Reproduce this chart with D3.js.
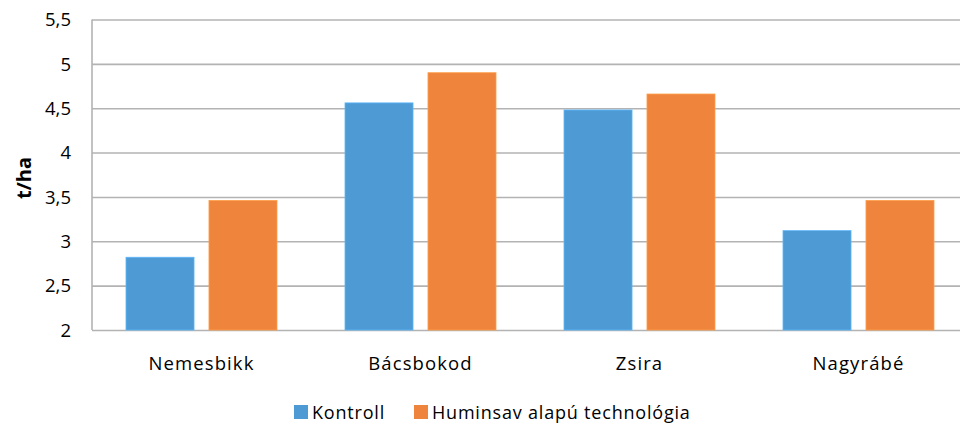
<!DOCTYPE html>
<html>
<head>
<meta charset="utf-8">
<script src="https://cdn.jsdelivr.net/npm/d3@7"></script>
<style>
  body { margin: 0; background: #fff; }
  text { font-family: 'Open Sans', 'DejaVu Sans', sans-serif; fill: #000; }
</style>
</head>
<body>
<svg id="chart" width="960" height="425"></svg>
<script>
const sites = ['Nemesbikk', 'Bácsbokod', 'Zsira', 'Nagyrábé'];
const seriesNames = ['Kontroll', 'Huminsav alapú technológia'];
const kontroll = [2.82, 4.56, 4.48, 3.12];
const huminsav = [3.46, 4.90, 4.66, 3.46];
const yTicks = [2, 2.5, 3, 3.5, 4, 4.5, 5, 5.5];

const colors = ['#4e9ad4', '#ef843c'];
const series = [kontroll, huminsav];

const svg = d3.select('#chart');
const margin = { top: 19.5, left: 92, bottom: 95 };
// plot area runs past the right edge of the picture
const plotRight = 968;
const height = 425 - margin.top - margin.bottom;

const x = d3.scaleBand()
  .domain(sites)
  .range([margin.left, plotRight]);

const xInner = d3.scaleBand()
  .domain(seriesNames)
  .range([34, x.bandwidth() - 34])
  .paddingInner(0.18);

const y = d3.scaleLinear()
  .domain([2, 5.5])
  .range([margin.top + height, margin.top]);

const fmt = d => d3.format('.1~f')(d).replace('.', ',');

// gridlines
svg.append('g')
  .attr('class', 'grid')
  .call(d3.axisLeft(y).tickValues(yTicks).tickSize(-(plotRight - margin.left)).tickFormat(''))
  .attr('transform', `translate(${margin.left},0)`)
  .call(g => g.select('.domain').remove())
  .selectAll('line')
    .attr('stroke', '#b3b3b3')
    .attr('stroke-width', 1.6);

// left axis line
svg.append('line')
  .attr('x1', margin.left).attr('x2', margin.left)
  .attr('y1', y(5.5)).attr('y2', y(2))
  .attr('stroke', '#b3b3b3')
  .attr('stroke-width', 1.6);

// tick labels
svg.append('g')
  .selectAll('text')
  .data(yTicks)
  .enter().append('text')
    .attr('x', 71)
    .attr('y', d => y(d))
    .attr('dy', '0.36em')
    .attr('text-anchor', 'end')
    .attr('font-size', 18.5)
    .text(fmt);

svg.append('text')
  .attr('transform', `translate(31,178) rotate(-90)`)
  .attr('text-anchor', 'middle')
  .attr('font-size', 20)
  .attr('font-weight', 'bold')
  .text('t/ha');

// bars
const groups = svg.append('g')
  .selectAll('g')
  .data(sites)
  .enter().append('g')
    .attr('transform', d => `translate(${x(d)},0)`);

groups.selectAll('rect')
  .data((d, i) => seriesNames.map((s, j) => ({ key: s, value: series[j][i], j })))
  .enter().append('rect')
    .attr('x', d => xInner(d.key))
    .attr('width', xInner.bandwidth())
    .attr('y', d => y(d.value))
    .attr('height', d => y(2) - y(d.value))
    .attr('fill', d => colors[d.j])
    .attr('stroke', d => d3.color(colors[d.j]).brighter(0.5))
    .attr('stroke-width', 0.8);

// category labels
svg.append('g')
  .selectAll('text')
  .data(sites)
  .enter().append('text')
    .attr('x', d => x(d) + x.bandwidth() / 2)
    .attr('y', 370)
    .attr('text-anchor', 'middle')
    .attr('font-size', 18.5)
    .attr('letter-spacing', 1.1)
    .text(d => d);

// legend
const legendX = [294, 414];
const legend = svg.append('g')
  .selectAll('g')
  .data(seriesNames)
  .enter().append('g')
    .attr('transform', (d, i) => `translate(${legendX[i]},405)`);

legend.append('rect')
  .attr('width', 14)
  .attr('height', 14)
  .attr('fill', (d, i) => colors[i]);

legend.append('text')
  .attr('x', 18)
  .attr('y', 14)
  .attr('font-size', 18)
  .attr('letter-spacing', 0.8)
  .text(d => d);
</script>
</body>
</html>
